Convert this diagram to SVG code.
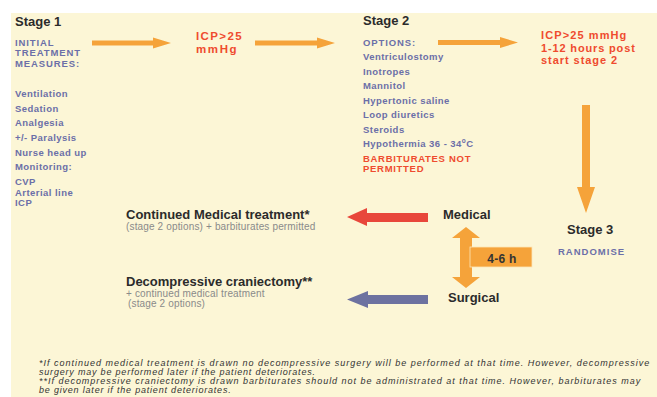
<svg xmlns="http://www.w3.org/2000/svg" width="657" height="397" viewBox="0 0 657 397">
<style>
text{font-family:"Liberation Sans",Arial,sans-serif}
.title{font-size:13px;font-weight:bold;fill:#2b2b2b}
.cap{font-size:9.5px;font-weight:bold;fill:#6b6fa8;letter-spacing:0.9px}
.item{font-size:9.5px;font-weight:bold;fill:#6b6fa8;letter-spacing:0.45px}
.red{font-size:11px;font-weight:bold;fill:#ef4b2e;letter-spacing:0.95px}
.redcap{font-size:9.5px;font-weight:bold;fill:#ef4b2e;letter-spacing:0.7px}
.sub{font-size:10px;fill:#8a8a8a;letter-spacing:0.15px}
.note{font-size:9px;font-style:italic;fill:#333;letter-spacing:0.8px}
.orange{fill:#f5a33a}
</style>
<rect x="11" y="13" width="646" height="384" fill="#fcf6d6"/>

<g id="connectors">
  <polygon class="orange" points="92,40.5 153,40.5 153,37.5 171,43 153,48.5 153,45.5 92,45.5"/>
  <polygon class="orange" points="255,40.5 317,40.5 317,37.5 335,43 317,48.5 317,45.5 255,45.5"/>
  <polygon class="orange" points="438,40 500,40 500,37 518,42.5 500,48 500,45 438,45"/>
  <polygon class="orange" points="582,105 590,105 590,187 595,187 586,213 577,187 582,187"/>
  <polygon fill="#e8473b" points="428,213 367,213 367,208 347,217 367,226 367,222 428,222"/>
  <polygon fill="#6d72a0" points="428,295 368,295 368,291 347,299.5 368,308 368,304 428,304"/>
  <polygon class="orange" points="466,227 480,238 472,238 472,277 480,277 466,288 452,277 460,277 460,238 452,238"/>
</g>

<g id="stage1">
  <text class="title" x="15" y="26">Stage 1</text>
  <text class="cap" x="15" y="45.5">INITIAL</text>
  <text class="cap" x="15" y="56">TREATMENT</text>
  <text class="cap" x="15" y="66.5">MEASURES:</text>
  <text class="item" x="15" y="97">Ventilation</text>
  <text class="item" x="15" y="111.5">Sedation</text>
  <text class="item" x="15" y="126">Analgesia</text>
  <text class="item" x="15" y="141">+/- Paralysis</text>
  <text class="item" x="15" y="155.5">Nurse head up</text>
  <text class="item" x="15" y="170">Monitoring:</text>
  <text class="item" x="15" y="185">CVP</text>
  <text class="item" x="15" y="195.5">Arterial line</text>
  <text class="item" x="15" y="206">ICP</text>
</g>

<g id="icp1">
  <text class="red" x="196" y="40" style="font-size:11.5px;letter-spacing:1.4px">ICP&gt;25</text>
  <text class="red" x="196" y="53" style="font-size:11.5px;letter-spacing:1.6px">mmHg</text>
</g>

<g id="stage2">
  <text class="title" x="363" y="25">Stage 2</text>
  <text class="cap" x="363" y="46">OPTIONS:</text>
  <text class="item" x="363" y="60">Ventriculostomy</text>
  <text class="item" x="363" y="74.5">Inotropes</text>
  <text class="item" x="363" y="89">Mannitol</text>
  <text class="item" x="363" y="103.5">Hypertonic saline</text>
  <text class="item" x="363" y="118">Loop diuretics</text>
  <text class="item" x="363" y="132.5">Steroids</text>
  <text class="item" x="363" y="147">Hypothermia 36 - 34<tspan dy="-4" font-size="6.5">o</tspan><tspan dy="4">C</tspan></text>
  <text class="redcap" x="363" y="161.5">BARBITURATES NOT</text>
  <text class="redcap" x="363" y="171.5">PERMITTED</text>
</g>

<g id="icp2">
  <text class="red" x="541" y="39" style="letter-spacing:1.1px">ICP&gt;25 mmHg</text>
  <text class="red" x="541" y="51.5" style="letter-spacing:0.85px">1-12 hours post</text>
  <text class="red" x="541" y="64">start stage 2</text>
</g>

<g id="stage3">
  <text class="title" x="567" y="234">Stage 3</text>
  <text class="cap" x="558" y="255" style="letter-spacing:1px">RANDOMISE</text>
</g>

<g id="medical">
  <text class="title" x="443" y="219">Medical</text>
</g>
<g id="surgical">
  <text class="title" x="448" y="302">Surgical</text>
</g>

<g id="time">
  <rect class="orange" x="470" y="247" width="62" height="20" stroke="#fde7b8" stroke-width="0.8"/>
  <text x="502" y="263" text-anchor="middle" style="font-size:12px;font-weight:bold;fill:#333;letter-spacing:0.3px">4-6 h</text>
</g>

<g id="continued">
  <text class="title" x="126" y="219">Continued Medical treatment*</text>
  <text class="sub" x="126" y="230">(stage 2 options) + barbiturates permitted</text>
</g>

<g id="decompressive">
  <text class="title" x="126" y="286">Decompressive craniectomy**</text>
  <text class="sub" x="126" y="297">+ continued medical treatment</text>
  <text class="sub" x="128" y="307">(stage 2 options)</text>
</g>

<g id="footnotes">
  <text class="note" x="39" y="366" textLength="611" lengthAdjust="spacing">*If continued medical treatment is drawn no decompressive surgery will be performed at that time. However, decompressive</text>
  <text class="note" x="39" y="375">surgery may be performed later if the patient deteriorates.</text>
  <text class="note" x="39" y="384" textLength="602" lengthAdjust="spacing">**If decompressive craniectomy is drawn barbiturates should not be administrated at that time. However, barbiturates may</text>
  <text class="note" x="39" y="392.5">be given later if the patient deteriorates.</text>
</g>
</svg>
